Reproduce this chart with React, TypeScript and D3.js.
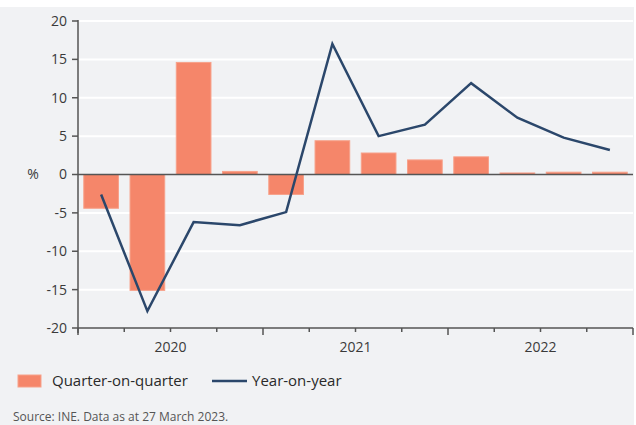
import React from "react";
import * as d3 from "d3";

const quarters = ["2020Q1","2020Q2","2020Q3","2020Q4","2021Q1","2021Q2","2021Q3","2021Q4","2022Q1","2022Q2","2022Q3","2022Q4"];
const quarterOnQuarter = [-4.4, -15.1, 14.6, 0.4, -2.6, 4.4, 2.8, 1.9, 2.3, 0.2, 0.3, 0.3];
const yearOnYear = [-2.6, -17.8, -6.2, -6.6, -4.9, 17.0, 5.0, 6.5, 11.9, 7.4, 4.8, 3.2];
const years = ["2020", "2021", "2022"];
const yTicks = [20, 15, 10, 5, 0, -5, -10, -15, -20];

const W = 636, H = 425;
const FONT = "'Open Sans', 'Noto Sans', sans-serif";

export default function App() {
  const left = 78, right = 633, top = 21, bottom = 328;
  const x = d3.scaleBand<string>().domain(quarters).range([left, right]).paddingInner(0.25).paddingOuter(0.125);
  const xs = d3.scaleLinear().domain([0, quarters.length]).range([left, right]);
  const y = d3.scaleLinear().domain([-20, 20]).range([bottom, top]);
  const line = d3.line<number>().x((_, i) => x(quarters[i])! + x.bandwidth() / 2).y(d => y(d));
  const axisColor = "#555";
  return (
    <div style={{ position: "fixed", left: 0, top: 0 }}>
      <svg width={W} height={H} style={{ display: "block" }}>
        <rect x={0} y={0} width={W} height={H} fill="#ffffff" />
        <rect x={0} y={7} width={634} height={H - 7} fill="#f1f2f4" />
        {yTicks.filter(t => t !== 0 && t !== -20).map(t => (
          <line key={t} x1={left} x2={right} y1={y(t)} y2={y(t)} stroke="#ffffff" strokeWidth={2} />
        ))}
        {quarterOnQuarter.map((v, i) => (
          <rect key={i} x={x(quarters[i])} width={x.bandwidth()} y={y(Math.max(0, v))}
            height={Math.abs(y(v) - y(0))} fill="#f5866a" stroke="#f7a18a" strokeWidth={1} />
        ))}
        <line x1={left} x2={right} y1={y(0)} y2={y(0)} stroke={axisColor} strokeWidth={1.5} />
        <path d={line(yearOnYear)!} fill="none" stroke="#2b476b" strokeWidth={2.5} strokeLinejoin="miter" />
        {/* y axis */}
        <line x1={left} x2={left} y1={top - 1} y2={bottom + 5} stroke={axisColor} strokeWidth={1.5} />
        {yTicks.map(t => (
          <g key={t}>
            <line x1={left - 6} x2={left} y1={y(t)} y2={y(t)} stroke={axisColor} strokeWidth={1.5} />
            <text x={left - 11} y={y(t)} dy="0.35em" textAnchor="end" fontFamily={FONT} fontSize={14} fill="#3a3a3a">{t}</text>
          </g>
        ))}
        <text x={33} y={y(0)} dy="0.35em" textAnchor="middle" fontFamily={FONT} fontSize={14} fill="#3a3a3a">%</text>
        {/* x axis */}
        <line x1={left} x2={right} y1={bottom} y2={bottom} stroke={axisColor} strokeWidth={1.5} />
        {d3.range(quarters.length + 1).map(i => (
          <line key={i} x1={xs(i)} x2={xs(i)} y1={bottom} y2={bottom + (i % 4 === 0 ? 7 : 4)} stroke={axisColor} strokeWidth={1.5} />
        ))}
        {years.map((yr, j) => (
          <text key={yr} x={xs(j * 4 + 2)} y={bottom + 19} dy="0.35em" textAnchor="middle" fontFamily={FONT} fontSize={14} fill="#3a3a3a">{yr}</text>
        ))}
        {/* legend */}
        <rect x={18} y={375} width={23} height={12} fill="#f5866a" stroke="#f7a18a" strokeWidth={1} />
        <text x={52} y={381} dy="0.35em" fontFamily={FONT} fontSize={15} fill="#2a2a2a">Quarter-on-quarter</text>
        <line x1={212} x2={247} y1={381} y2={381} stroke="#2b476b" strokeWidth={2.5} />
        <text x={252} y={381} dy="0.35em" fontFamily={FONT} fontSize={15} fill="#2a2a2a">Year-on-year</text>
        <text x={13} y={417} dy="0.35em" fontFamily={FONT} fontSize={12} fill="#555">Source: INE. Data as at 27 March 2023.</text>
      </svg>
    </div>
  );
}
